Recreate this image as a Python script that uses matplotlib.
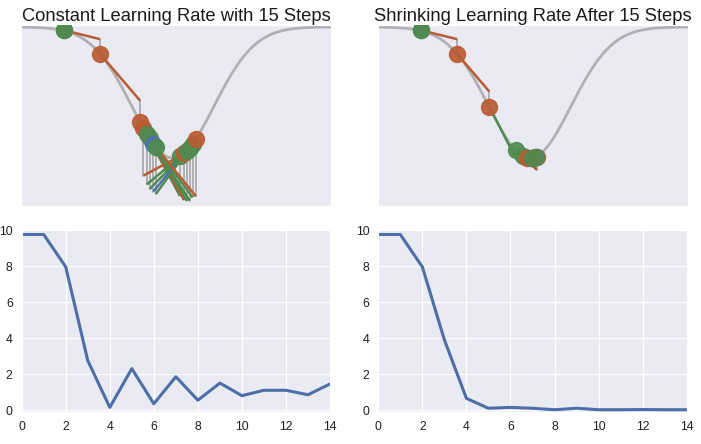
import numpy as np
import matplotlib
matplotlib.use("Agg")
import matplotlib.pyplot as plt
import seaborn as sns

sns.set_style("darkgrid")
plt.rcParams['font.family'] = ['Liberation Sans', 'DejaVu Sans']

# ---- data ----
steps = list(range(15))
loss_constant = [9.75, 9.75, 7.95, 2.75, 0.15, 2.3, 0.35, 1.85, 0.55, 1.5, 0.8, 1.1, 1.1, 0.85, 1.45]
loss_shrinking = [9.75, 9.75, 7.95, 3.9, 0.65, 0.1, 0.15, 0.1, 0.02, 0.1, 0.02, 0.02, 0.03, 0.02, 0.02]

# x position of each step on the loss curve (curve-width units)
xpos_constant = [-2.66, -2.66, -1.78, -0.80, 0.17, -0.72, 0.27, -0.64, 0.34, -0.57, 0.41, -0.48, 0.48, -0.42, 0.56]
xpos_shrinking = [-2.66, -2.66, -1.78, -0.99, -0.33, 0.17, -0.17, 0.14, -0.06, 0.14, 0.06, 0.06, 0.08, 0.06, 0.06]

G, O, B = '#508a50', '#b95c33', '#4c72b0'
colors_constant = [G, G, O, O, G, O, O, G, G, G, G, B, G, G, O]
colors_shrinking = [G, G, O, O, G, O, G, B, O, G, O, B, G, O, G]

titles = ["Constant Learning Rate with 15 Steps", "Shrinking Learning Rate After 15 Steps"]
xticks = [0, 2, 4, 6, 8, 10, 12, 14]
yticks = [0, 2, 4, 6, 8, 10]

# loss surface: an inverted bell of depth 10
DEPTH = 10.0


def surface(x):
    return DEPTH * (1 - np.exp(-np.asarray(x) ** 2 / 2))


def slope(x):
    return DEPTH * x * np.exp(-x ** 2 / 2)


fig = plt.figure(figsize=(7.01, 4.44), dpi=100)
W, H = 701.0, 444.0


def axes_px(l, t, r, b):
    return fig.add_axes([l / W, 1 - b / H, (r - l) / W, (b - t) / H])


top_axes = [axes_px(21, 25, 331, 206), axes_px(378, 25, 688, 206)]
bot_axes = [axes_px(21.7, 230, 330, 411.7), axes_px(378.3, 230, 686.7, 411.7)]

xgrid = np.linspace(-3.71, 3.86, 400)
for ax, title, xs, ls, cs in zip(top_axes, titles,
                                 [xpos_constant, xpos_shrinking],
                                 [loss_constant, loss_shrinking],
                                 [colors_constant, colors_shrinking]):
    ax.plot(xgrid, surface(xgrid), color='#b0b0b4', lw=2.0, zorder=1)
    for k in range(len(xs)):
        if k > 0:
            x0, y0 = xs[k - 1], ls[k - 1]
            x1 = xs[k]
            yend = y0 + slope(x0) * (x1 - x0)
            ax.plot([x0, x1], [y0, yend], color=cs[k], lw=1.8, zorder=2,
                    solid_capstyle='butt')
            ax.plot([x1, x1], [yend, ls[k]], color='#a4a4a8', lw=1.2, zorder=1.5)
        ax.plot([xs[k]], [ls[k]], 'o', color=cs[k], ms=11.5, mec=cs[k],
                alpha=0.92, zorder=3)
    ax.set_xlim(-3.71, 3.86)
    ax.set_ylim(-3.66, 10.15)
    ax.set_xticks([])
    ax.set_yticks([])
    ax.set_title(title, fontsize=13.2, color='#1a1a1a', pad=3)

for ax, ls in zip(bot_axes, [loss_constant, loss_shrinking]):
    ax.plot(steps, ls, color='#4c6faa', lw=2.2)
    ax.set_xlim(0, 14)
    ax.set_ylim(-0.09, 10)
    ax.set_xticks(xticks)
    ax.set_yticks(yticks)
    ax.tick_params(labelsize=8.8, pad=6.5, colors='#1f1f1f', length=0)

fig.savefig("out.png", dpi=100)
